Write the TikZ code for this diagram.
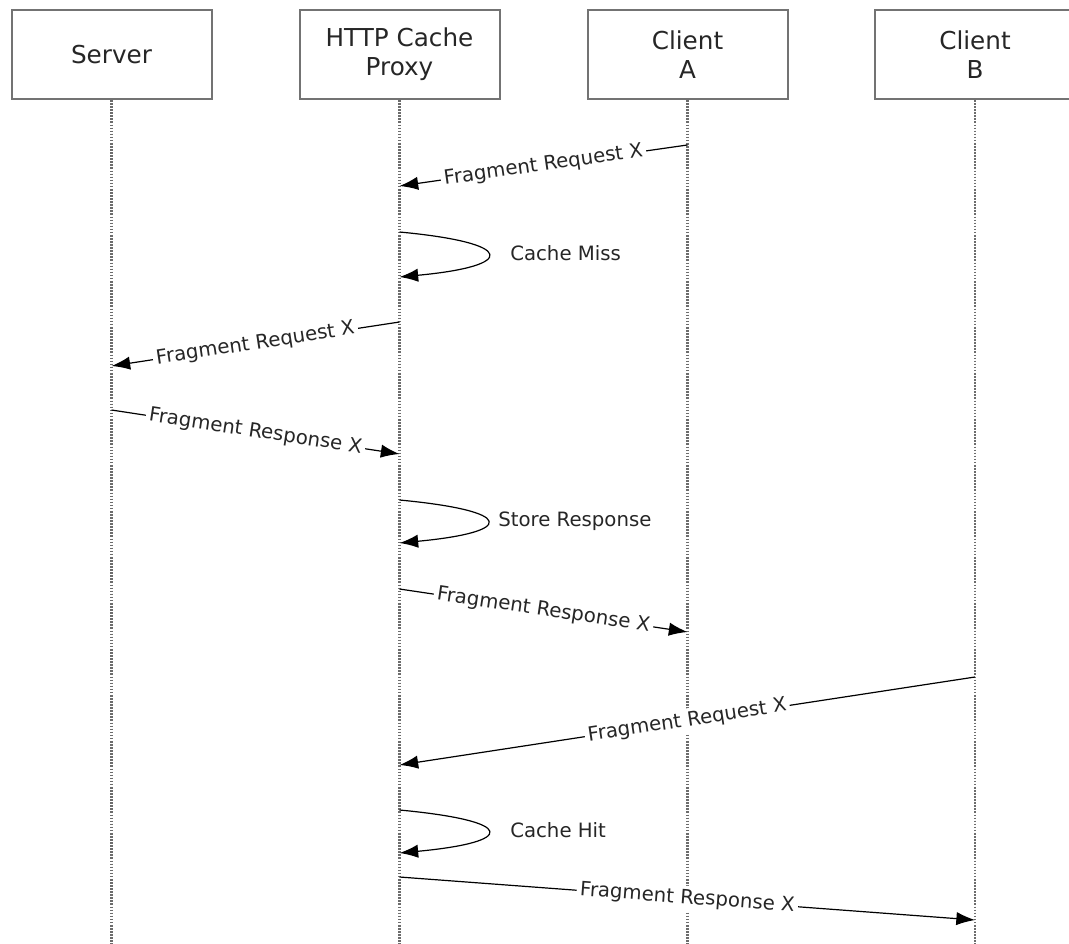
\documentclass[tikz,border=0pt]{standalone}
\usepackage{fontspec}
\setmainfont{DejaVu Sans}
\usepackage{tikz}
\usetikzlibrary{arrows.meta}

\begin{document}
\begin{tikzpicture}[x=0.75pt,y=-0.75pt]
\tikzset{actor/.style={draw=gray!90!black,line width=1.5pt,minimum width=150pt,minimum height=66.75pt,inner sep=0pt,align=center,text=black!85,font=\fontsize{18.5}{21.75}\selectfont},
lifeline/.style={draw=gray!85!black,line width=1.6pt,dash pattern=on 1.2pt off 1.1pt},
msg/.style={line width=0.9pt,-{Latex[length=14pt,width=10pt]}},
msglabel/.style={midway,sloped,fill=white,inner sep=2.5pt,text=black!85,font=\fontsize{14.8}{17}\selectfont},
looplabel/.style={anchor=west,inner sep=0pt,text=black!85,font=\fontsize{14.8}{17}\selectfont}}
\useasboundingbox (0,0) rectangle (1069,944);

\node[actor] (server) at (111.5,54.5) {Server};
\node[actor] (proxy) at (399.5,54.5) {HTTP Cache\\Proxy};
\node[actor] (clientA) at (687.5,54.5) {Client\\A};
\node[actor] (clientB) at (975,54.5) {Client\\B};

\coordinate (bottom) at (0,944);
\draw[lifeline] (server.south) -- (server.south |- bottom);
\draw[lifeline] (proxy.south) -- (proxy.south |- bottom);
\draw[lifeline] (clientA.south) -- (clientA.south |- bottom);
\draw[lifeline] (clientB.south) -- (clientB.south |- bottom);

% points on the lifelines
\coordinate (a1) at (687.5,145);
\coordinate (p1) at (399.5,186);
\coordinate (p2) at (399.5,232);
\coordinate (p3) at (399.5,277);
\coordinate (p4) at (399.5,322);
\coordinate (s1) at (111.5,366);
\coordinate (s2) at (111.5,410);
\coordinate (p5) at (399.5,454);
\coordinate (p6) at (399.5,500);
\coordinate (p7) at (399.5,543);
\coordinate (p8) at (399.5,589);
\coordinate (a2) at (687.5,632);
\coordinate (b1) at (975,677);
\coordinate (p9) at (399.5,765);
\coordinate (p10) at (399.5,810);
\coordinate (p11) at (399.5,853);
\coordinate (p12) at (399.5,877);
\coordinate (b2) at (975,920);

\draw[msg] (a1) -- node[msglabel] {Fragment Request X} (p1);
\draw[msg] (p2) .. controls (517,243) and (517,266) .. (p3);
\node[looplabel] (miss) at (510,253) {Cache Miss};
\draw[msg] (p4) -- node[msglabel] {Fragment Request X} (s1);
\draw[msg] (s2) -- node[msglabel] {Fragment Response X} (p5);
\draw[msg] (p6) .. controls (516,511) and (516,532) .. (p7);
\node[looplabel] (store) at (498,521) {Store Response};
\draw[msg] (p8) -- node[msglabel] {Fragment Response X} (a2);
\draw[msg] (b1) -- node[msglabel] {Fragment Request X} (p9);
\draw[msg] (p10) .. controls (517,821) and (517,842) .. (p11);
\node[looplabel] (hit) at (510,830) {Cache Hit};
\draw[msg] (p12) -- node[msglabel] {Fragment Response X} (b2);

\end{tikzpicture}
\end{document}
